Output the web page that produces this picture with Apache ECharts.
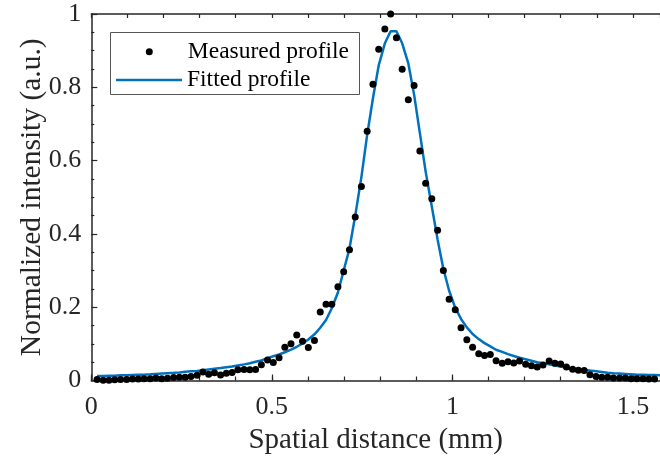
<!DOCTYPE html>
<html><head><meta charset="utf-8">
<script src="https://cdn.jsdelivr.net/npm/echarts@6/dist/echarts.min.js"></script>
<style>html,body{margin:0;padding:0;background:#fff}#c{width:660px;height:461px}</style>
</head><body><div id="c"></div>
<script>
// Spatial distance (mm) of each measured sample
const xs = [0.016,0.033,0.049,0.065,0.081,0.098,0.114,0.130,0.146,0.163,
0.179,0.195,0.211,0.228,0.244,0.260,0.276,0.293,0.309,0.325,
0.341,0.358,0.374,0.390,0.406,0.423,0.439,0.455,0.471,0.488,
0.504,0.520,0.536,0.553,0.569,0.585,0.601,0.618,0.634,0.650,
0.666,0.683,0.699,0.715,0.731,0.748,0.764,0.780,0.796,0.813,
0.829,0.845,0.861,0.878,0.894,0.910,0.926,0.943,0.959,0.975,
0.991,1.008,1.024,1.040,1.056,1.073,1.089,1.105,1.121,1.138,
1.154,1.170,1.186,1.203,1.219,1.235,1.251,1.268,1.284,1.300,
1.316,1.333,1.349,1.365,1.381,1.398,1.414,1.430,1.446,1.463,
1.479,1.495,1.511,1.528,1.544,1.560];
// Measured profile (normalized)
const measured = [0.003,0.001,0.001,0.002,0.003,0.003,0.004,0.004,0.005,0.005,
0.007,0.005,0.006,0.008,0.009,0.009,0.011,0.014,0.023,0.017,
0.021,0.015,0.020,0.022,0.029,0.030,0.029,0.030,0.043,0.056,
0.049,0.062,0.091,0.100,0.124,0.107,0.090,0.109,0.187,0.208,
0.208,0.256,0.297,0.357,0.446,0.529,0.680,0.808,0.904,0.959,
1.000,0.935,0.849,0.766,0.805,0.626,0.538,0.496,0.410,0.300,
0.222,0.193,0.144,0.111,0.091,0.073,0.068,0.071,0.054,0.047,
0.051,0.048,0.053,0.044,0.040,0.037,0.042,0.053,0.047,0.045,
0.037,0.031,0.028,0.027,0.016,0.011,0.009,0.009,0.007,0.007,
0.007,0.005,0.005,0.005,0.004,0.004];
// Fitted profile, sampled at the same positions plus one more at the right edge
const fitXs = xs.concat([1.576]);
const fitted = [0.012,0.012,0.013,0.013,0.014,0.014,0.015,0.016,0.016,0.017,
0.018,0.019,0.020,0.021,0.022,0.024,0.025,0.026,0.028,0.030,
0.032,0.034,0.036,0.038,0.041,0.044,0.047,0.051,0.055,0.061,
0.066,0.071,0.077,0.084,0.092,0.101,0.112,0.126,0.144,0.165,
0.197,0.240,0.300,0.360,0.450,0.555,0.670,0.770,0.860,0.920,
0.953,0.953,0.920,0.865,0.780,0.675,0.570,0.475,0.385,0.305,
0.245,0.198,0.168,0.145,0.127,0.113,0.102,0.093,0.084,0.078,
0.072,0.067,0.062,0.058,0.054,0.050,0.047,0.044,0.041,0.038,
0.035,0.033,0.031,0.029,0.027,0.025,0.023,0.021,0.020,0.019,
0.018,0.017,0.016,0.016,0.015,0.015,0.014];
const xTickLabels = ['0','0.5','1','1.5'];
const yTickLabels = ['0','0.2','0.4','0.6','0.8','1'];
const xTitle = 'Spatial distance (mm)';
const yTitle = 'Normalized intensity (a.u.)';
const names = ['Measured profile','Fitted profile'];

const FONT = 'Liberation Serif';
const AX = '#262626';
const XMAX = 1.575;
const chart = echarts.init(document.getElementById('c'), null, {renderer:'canvas'});
const fmtX = v => { const s = String(+v.toFixed(2)); return xTickLabels.includes(s) ? s : ''; };
const fmtY = v => { const s = String(+v.toFixed(2)); return yTickLabels.includes(s) ? s : ''; };
const legText = {fontFamily:FONT, fontSize:23.5, color:'#000', lineHeight:24};
chart.setOption({
  animation:false,
  backgroundColor:'#fff',
  grid: {left:91.3, top:14, right:0, bottom:80.5, containLabel:false},
  graphic: [{type:'rect', left:110, top:32, z:15,
    shape:{width:249, height:62}, style:{fill:'#fff', stroke:'#555', lineWidth:1}}],
  legend: [
    {left:145.8, top:39.7, padding:0, itemWidth:7, itemHeight:7, itemGap:0,
     textStyle:Object.assign({padding:[0,0,0,30]}, legText),
     data:[{name:names[0], icon:'circle'}], z:20, selectedMode:false},
    {left:116, top:68, padding:0, itemWidth:66, itemHeight:2.5, itemGap:0,
     textStyle:legText, data:[{name:names[1], icon:'rect'}], z:20, selectedMode:false}
  ],
  xAxis: [
    {type:'value', min:0, max:XMAX, interval:0.1, position:'bottom',
     axisLine:{show:true, lineStyle:{color:AX, width:1.5}},
     axisTick:{show:true, inside:true, length:4, lineStyle:{color:AX, width:1.2}},
     axisLabel:{formatter:fmtX, fontFamily:FONT, fontSize:26, color:AX, margin:14, showMaxLabel:false},
     splitLine:{show:false},
     name:xTitle, nameLocation:'middle', nameGap:40,
     nameTextStyle:{fontFamily:FONT, fontSize:29, color:AX}},
    {type:'value', min:0, max:XMAX, interval:0.1, position:'top',
     axisLine:{show:true, lineStyle:{color:AX, width:1.5}},
     axisTick:{show:true, inside:true, length:4, lineStyle:{color:AX, width:1.2}},
     axisLabel:{show:false}, splitLine:{show:false}},
    {type:'value', min:0, max:XMAX, interval:0.5, position:'bottom',
     axisLine:{show:false},
     axisTick:{show:true, inside:true, length:6, lineStyle:{color:AX, width:1.2}},
     axisLabel:{show:false}, splitLine:{show:false}}
  ],
  yAxis: [
    {type:'value', min:0, max:1, interval:0.2, position:'left',
     axisLine:{show:true, lineStyle:{color:AX, width:1.5}},
     axisTick:{show:true, inside:true, length:6, lineStyle:{color:AX, width:1.2}},
     minorTick:{show:true, splitNumber:4, length:3, lineStyle:{color:AX, width:1.2}},
     axisLabel:{formatter:fmtY, fontFamily:FONT, fontSize:26, color:AX, margin:10},
     splitLine:{show:false},
     name:yTitle, nameLocation:'middle', nameGap:44, nameMoveOverlap:false,
     nameTextStyle:{fontFamily:FONT, fontSize:29.5, color:AX}}
  ],
  series: [
    {name:names[0], type:'scatter', symbol:'circle', symbolSize:7,
     itemStyle:{color:'#000', opacity:1}, data: xs.map((x,i)=>[x, measured[i]]), z:3},
    {name:names[1], type:'line', showSymbol:false, symbol:'none', clip:true,
     lineStyle:{color:'#0072BD', width:2.5}, itemStyle:{color:'#0072BD'},
     data: fitXs.map((x,i)=>[x, fitted[i]]), z:2}
  ]
});
</script></body></html>
